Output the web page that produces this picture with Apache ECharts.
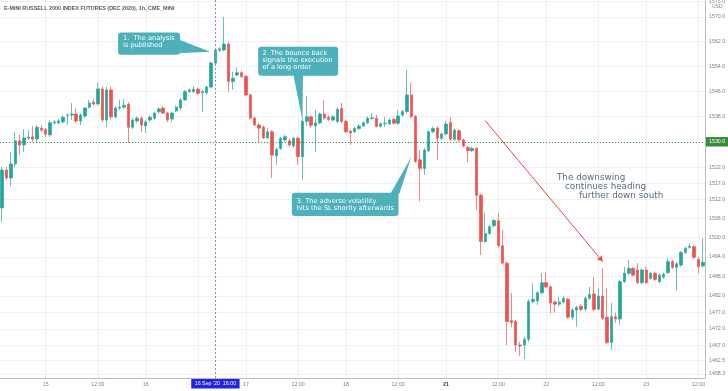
<!DOCTYPE html>
<html><head><meta charset="utf-8">
<script src="https://cdn.jsdelivr.net/npm/echarts@6/dist/echarts.min.js"></script>
<style>html,body{margin:0;padding:0;background:#fff}#c{width:728px;height:391px}</style>
</head><body><div id="c"></div>
<script>
// Trading sessions (Sep 2020): [day, first hour, last hour, evening 23:00 bar]
const sessions = [['14',13,21,true],['15',0,21,true],['16',0,21,true],['17',0,21,true],['18',0,21,false],['20',23,23,false],['21',0,21,true],['22',0,21,true],['23',0,13,false]];
const categories = [];
sessions.forEach(([d,a,b,eve]) => { for (let h=a; h<=b; h++) categories.push(d+' '+String(h).padStart(2,'0')+':00'); if (eve) categories.push(d+' 23:00'); });

const opens = [1509.2,1521.1,1518.6,1523.0,1530.3,1529.0,1531.2,1531.6,1530.9,1534.3,
1533.9,1532.2,1536.0,1536.0,1536.3,1538.4,1538.5,1538.8,1536.6,1538.2,
1541.0,1542.6,1542.0,1546.8,1536.9,1546.5,1537.9,1540.7,1541.0,1541.9,
1534.6,1536.6,1537.5,1535.0,1536.9,1537.5,1539.5,1540.7,1539.1,1537.2,
1539.8,1540.7,1543.3,1546.0,1546.0,1546.7,1545.6,1545.6,1547.4,1555.1,
1559.2,1559.3,1561.2,1549.2,1551.3,1552.0,1550.8,1544.9,1537.5,1535.3,
1534.6,1531.3,1533.2,1525.6,1527.9,1530.6,1530.3,1528.7,1531.1,1525.3,
1536.5,1537.9,1535.0,1536.0,1538.8,1537.8,1536.9,1536.4,1540.6,1536.4,
1533.4,1533.2,1534.2,1535.0,1536.0,1537.4,1537.5,1534.9,1535.7,1535.7,
1537.1,1535.9,1538.5,1539.6,1544.9,1538.0,1524.3,1521.6,1527.2,1533.2,
1534.4,1531.1,1532.5,1536.1,1530.8,1533.5,1530.6,1528.2,1527.2,1527.9,
1513.2,1498.8,1501.3,1503.7,1505.2,1497.5,1492.1,1474.5,1474.2,1467.1,
1467.1,1468.8,1480.3,1480.5,1483.0,1486.1,1484.8,1480.2,1479.5,1480.2,
1481.0,1475.5,1477.7,1478.9,1478.0,1481.3,1482.6,1478.0,1482.0,1475.5,
1467.8,1475.7,1475.0,1486.4,1489.0,1490.5,1490.0,1486.1,1490.0,1487.4,
1489.0,1486.4,1487.8,1489.2,1492.6,1490.8,1491.5,1495.4,1497.0,1497.2,
1493.3,1491.2];
const highs = [1522.1,1522.1,1526.8,1533.1,1532.2,1534.0,1533.7,1535.0,1535.3,1535.3,
1534.3,1536.9,1536.9,1537.2,1538.3,1539.1,1542.3,1540.7,1539.0,1541.0,
1543.3,1543.6,1548.8,1547.5,1547.5,1547.5,1541.3,1543.3,1543.6,1542.6,
1537.5,1538.0,1538.0,1536.9,1538.3,1539.6,1541.0,1541.3,1539.4,1539.5,
1541.5,1544.0,1546.5,1547.0,1547.8,1547.3,1546.5,1547.8,1555.6,1560.0,
1560.3,1570.0,1562.0,1552.3,1553.6,1552.5,1551.3,1545.3,1538.0,1535.8,
1535.2,1534.3,1533.8,1528.2,1531.6,1532.2,1531.0,1531.6,1531.6,1537.5,
1544.6,1538.4,1540.1,1539.3,1543.3,1538.4,1538.4,1541.0,1542.3,1536.9,
1533.9,1534.8,1535.6,1536.5,1538.0,1539.0,1538.5,1536.2,1537.9,1537.4,
1537.6,1540.1,1540.1,1552.9,1548.8,1538.5,1527.4,1528.0,1533.7,1534.8,
1534.9,1533.0,1536.6,1537.8,1534.3,1534.0,1531.0,1528.7,1528.4,1528.4,
1513.7,1507.7,1504.0,1505.8,1507.7,1502.4,1492.6,1482.9,1474.7,1468.0,
1469.5,1481.0,1485.9,1483.5,1489.1,1489.2,1485.3,1480.7,1481.7,1481.8,
1481.5,1478.2,1479.0,1479.4,1481.8,1484.8,1487.8,1484.3,1490.5,1484.3,
1479.9,1476.9,1487.0,1491.0,1493.1,1491.0,1492.1,1490.5,1491.0,1489.5,
1489.5,1489.0,1489.2,1493.6,1493.1,1492.4,1495.9,1497.2,1498.3,1497.7,
1493.8,1499.8];
const lows = [1504.9,1518.0,1516.1,1522.0,1525.9,1526.8,1530.6,1530.0,1530.0,1533.0,
1531.5,1531.5,1535.5,1535.6,1535.9,1535.3,1536.9,1536.0,1535.3,1537.5,
1540.5,1541.5,1541.5,1536.3,1534.6,1537.0,1537.3,1540.0,1540.5,1529.6,
1534.0,1536.0,1533.1,1532.8,1536.3,1537.0,1539.0,1538.8,1536.3,1536.3,
1539.4,1540.0,1543.0,1545.6,1545.5,1545.0,1539.5,1545.0,1547.0,1554.5,
1558.7,1558.9,1545.9,1546.5,1550.8,1550.3,1544.5,1537.0,1535.0,1530.0,
1530.9,1530.9,1518.6,1522.7,1527.4,1530.0,1528.5,1528.2,1522.7,1518.0,
1535.0,1534.5,1526.8,1535.5,1537.0,1536.6,1536.4,1536.0,1535.9,1532.7,
1529.0,1532.7,1533.8,1534.6,1535.6,1537.0,1534.6,1534.5,1534.6,1535.2,
1535.4,1535.4,1538.0,1539.0,1537.5,1523.3,1511.2,1519.6,1526.7,1532.7,
1524.3,1530.6,1532.0,1530.3,1530.2,1530.0,1528.2,1523.6,1526.8,1508.6,
1494.6,1498.3,1500.8,1503.2,1497.0,1491.6,1467.1,1472.5,1465.0,1463.8,
1462.8,1468.0,1479.8,1479.2,1482.5,1484.3,1476.7,1476.9,1478.7,1479.7,
1475.0,1474.7,1472.6,1477.4,1477.5,1480.8,1477.4,1477.5,1474.7,1467.3,
1465.6,1473.8,1473.2,1486.0,1488.5,1488.0,1485.6,1485.6,1485.6,1487.0,
1486.6,1486.0,1487.3,1488.7,1490.3,1483.8,1491.0,1494.9,1496.5,1493.4,
1489.0,1490.7];
const closes = [1521.1,1518.6,1523.0,1530.3,1529.0,1531.2,1531.5,1530.9,1534.6,1533.7,
1532.4,1536.0,1536.3,1536.6,1537.8,1538.5,1538.8,1536.6,1538.5,1540.7,
1542.3,1542.0,1546.8,1536.9,1546.5,1537.9,1540.7,1541.0,1541.6,1534.6,
1536.9,1537.5,1535.3,1536.3,1537.8,1539.1,1540.4,1539.1,1536.9,1539.1,
1541.0,1543.3,1546.0,1546.5,1546.7,1545.4,1545.9,1547.4,1555.1,1559.3,
1559.7,1561.2,1549.2,1550.2,1552.0,1550.8,1544.9,1537.5,1535.3,1534.3,
1531.3,1533.2,1525.8,1527.6,1531.1,1531.6,1529.0,1531.1,1525.3,1536.5,
1537.9,1535.2,1536.0,1538.8,1537.5,1537.1,1537.9,1540.3,1536.4,1533.2,
1532.8,1534.2,1535.0,1536.0,1537.5,1537.6,1534.8,1535.7,1535.9,1536.9,
1535.9,1538.2,1539.6,1544.9,1538.0,1523.8,1521.6,1527.4,1533.2,1534.2,
1531.1,1532.5,1535.6,1530.8,1533.7,1530.6,1528.7,1527.2,1527.9,1513.2,
1498.8,1501.3,1503.4,1505.3,1497.5,1492.1,1474.2,1473.9,1467.1,1466.8,
1468.8,1480.3,1481.0,1483.0,1486.1,1484.8,1479.9,1479.5,1480.2,1481.3,
1475.5,1477.7,1478.5,1477.9,1481.3,1482.5,1477.9,1482.0,1475.2,1467.8,
1475.7,1475.0,1486.4,1489.0,1490.5,1488.4,1486.1,1490.0,1486.1,1489.0,
1487.1,1488.4,1488.7,1492.6,1490.8,1491.9,1495.4,1496.7,1497.3,1493.9,
1491.0,1492.4];

const yTicks = [1575.0,1570.0,1562.0,1554.0,1546.0,1538.0,1530.0,1522.0,1517.0,1512.0,1506.0,1500.0,1494.0,1488.0,1482.0,1477.0,1472.0,1467.0,1462.5,1458.3];
const hiddenXLabels = ['16 12:00'];
const levelLine = 1530.0;
const lastPrice = 1492.4;
const crossIdx = 49;
const crossLabel = "16 Sep '20  16:00";
const arrowFrom = [111, 1536.7], arrowTo = [138, 1492.6];

const AX = '"Liberation Sans", Arial, sans-serif';
const AN = '"DejaVu Sans", sans-serif';
const labColor = '#7c7f88';
const hour = v => v.split(' ')[1];
const isLab = v => hour(v) === '00:00' || hour(v) === '12:00';

const chart = echarts.init(document.getElementById('c'), null, {renderer:'canvas'});
const candleData = categories.map((c,i) => [opens[i], closes[i], lows[i], highs[i]]);

const gridLines = [];
yTicks.forEach(v => gridLines.push({yAxis: v, lineStyle:{color:'#eef0f5', width:1, type:'solid'},
  label:{show:true, position:'end', distance:4, formatter: v.toFixed(1), color: labColor, fontSize:5.3, fontFamily: AX}}));
categories.forEach(c => { if (isLab(c)) gridLines.push({xAxis: c, lineStyle:{color:'#eef0f5', width:1, type:'solid'}, label:{show:false}}); });

chart.setOption({
  animation:false,
  backgroundColor:'#ffffff',
  grid:{left:0, right:23, top:0, bottom:13},
  xAxis:{type:'category', data:categories, boundaryGap:true,
    axisLine:{show:true, lineStyle:{color:'#b8bbc4', width:1}},
    axisTick:{show:false}, splitLine:{show:false},
    axisLabel:{interval:(i,v)=> isLab(v) && !hiddenXLabels.includes(v), margin:4,
      formatter:v => hour(v)==='00:00' ? (v.split(' ')[0]==='21' ? '{b|21}' : v.split(' ')[0]) : '12:00',
      color:labColor, fontSize:5.3, fontFamily:AX,
      rich:{b:{color:'#3d4049', fontSize:5.3, fontFamily:AX, fontWeight:'bold'}}}},
  yAxis:{type:'log', min:1457.1, max:1575.5, position:'right', scale:true,
    axisLine:{show:true, lineStyle:{color:'#b8bbc4', width:1}},
    axisTick:{show:false}, axisLabel:{show:false}, splitLine:{show:false}},
  series:[
    {type:'line', data:[], z:1, silent:true,
      markLine:{silent:true, z:1, symbol:['none','none'], animation:false, data:gridLines}},
    {type:'candlestick', data:candleData, barWidth:2.9, z:2,
      itemStyle:{color:'#26a69a', color0:'#ef5350', borderColor:'#26a69a', borderColor0:'#ef5350', borderWidth:0.7},
      markLine:{silent:true, symbol:['none','none'], animation:false, data:[
        {yAxis: levelLine, lineStyle:{color:'#3b8f3e', width:1, type:[1,2]},
          label:{show:true, position:'end', distance:1, formatter: levelLine.toFixed(1), color:'#fff', backgroundColor:'#3b8a3b', padding:[2.5,3,2,3], fontSize:5.3, fontFamily:AX}},
        {yAxis: lastPrice, lineStyle:{opacity:0},
          label:{show:true, position:'end', distance:1, formatter: lastPrice.toFixed(1), color:'#fff', backgroundColor:'#26a69a', padding:[2.5,3,2,3], fontSize:5.3, fontFamily:AX}},
        {xAxis: categories[crossIdx], lineStyle:{color:'#8a8ed0', width:1, type:[2,2]},
          label:{show:true, position:'start', distance:1, formatter: crossLabel, color:'#fff', backgroundColor:'#2424e0', padding:[2.5,3.5,2,3.5], fontSize:5.3, fontFamily:AX}},
        [{coord:[categories[arrowFrom[0]], arrowFrom[1]], symbol:'none', lineStyle:{color:'#f0404c', width:1, type:'solid'}, label:{show:false}},
         {coord:[categories[arrowTo[0]], arrowTo[1]], symbol:'arrow', symbolSize:[5,6]}]
      ]}}
  ]
});

const P = (i, v) => chart.convertToPixel({gridIndex:0}, [categories[i], v]);
const BOX = '#4db0ba';
const ZZ = 100;
function callout(tip, box, ptr, lines, tx, ty, lh) {
  const [x0,y0] = tip;
  return {type:'group', z:ZZ, children:[
    {type:'rect', z:ZZ, shape:{x:x0+box[0], y:y0+box[1], width:box[2], height:box[3], r:3}, style:{fill:BOX}},
    {type:'polygon', z:ZZ, shape:{points: ptr.map(p => [x0+p[0], y0+p[1]])}, style:{fill:BOX}},
    {type:'text', z:ZZ+1, x:x0+tx, y:y0+ty, style:{text:lines.join('\n'), fill:'#ffffff', fontSize:6.6, fontFamily:AN, lineHeight:lh, verticalAlign:'top', align:'left'}}
  ]};
}
const t1 = P(48, 1558.7), t2 = P(69, 1536.9), t3 = P(94, 1525.2);
t1[0] -= 1;
const txt = (s, x, y) => ({type:'text', z:ZZ, x, y, style:{text:s, fill:'#5a6a7e', fontSize:8.8, fontFamily:AN, verticalAlign:'middle'}});
chart.setOption({graphic:[
  {type:'text', z:ZZ, x:4, y:8.7, style:{text:'E-MINI RUSSELL 2000 INDEX FUTURES (DEC 2020), 1h, CME_MINI', fill:'#555860', fontSize:5.4, fontWeight:'bold', fontFamily:AX, verticalAlign:'middle'}},
  {type:'text', z:ZZ, x:712, y:7, style:{text:'USD', fill:labColor, fontSize:5, fontFamily:AX, verticalAlign:'middle'}},
  callout(t1, [-92,-19.3,62,22.3], [[-32,-12.5],[0,0],[-32,1.5]], ['1.  The analysis','is published'], -87, -17.5, 7.4),
  callout(t2, [-44.3,-73.3,80,29], [[-9,-45],[0.5,-45],[0,0]], ['2. The bounce back','signals the execution','of a long order'], -40, -70.4, 7.2),
  callout(t3, [-119.4,35.7,106.6,23.3], [[-21,37],[-12,37],[0,0]], ['3. The adverse volatility','hits the SL shortly afterwards'], -114.4, 40.5, 7),
  txt('The downswing', 557, 177.3),
  txt('continues heading', 565, 186.7),
  txt('further down south', 579, 196)
]});
</script></body></html>
